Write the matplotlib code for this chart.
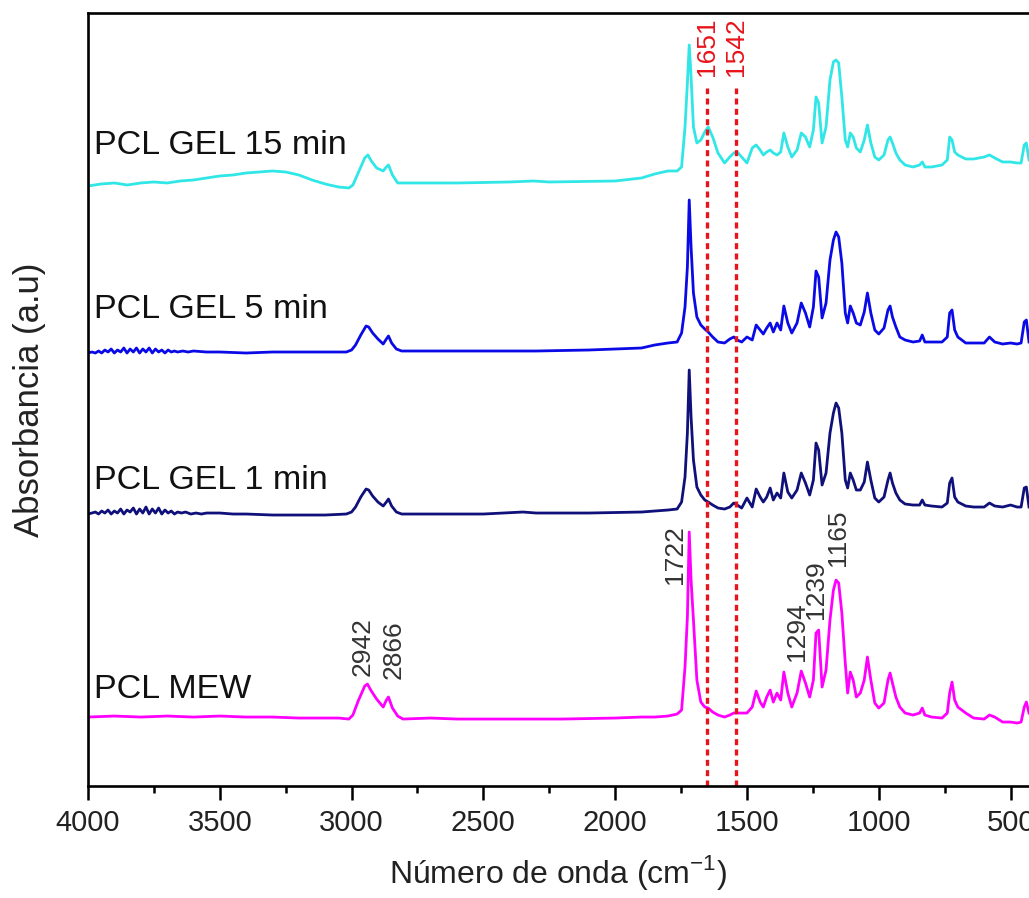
import matplotlib
matplotlib.use("Agg")
import matplotlib.pyplot as plt
from matplotlib.ticker import MultipleLocator, NullLocator

plt.rcParams['font.family'] = ['Liberation Sans', 'DejaVu Sans']
plt.rcParams['mathtext.fontset'] = 'custom'
plt.rcParams['mathtext.rm'] = 'Liberation Sans'

# --- data ---
names = ['PCL MEW', 'PCL GEL 1 min', 'PCL GEL 5 min', 'PCL GEL 15 min']
colors = ['#ff00ff', '#10107a', '#0a0ae6', '#30e6e6']

# high wavenumber part, one grid per spectrum
wn_hi_mew = [4000, 3900, 3800, 3700, 3600, 3500, 3400, 3300, 3200, 3050, 3010, 2995,
             2975, 2950, 2940, 2925, 2905, 2880, 2868, 2860, 2845, 2825, 2805, 2700,
             2600, 2400, 2200, 2000, 1900, 1850]
a_hi_mew = [0.66, 0.67, 0.66, 0.67, 0.66, 0.67, 0.66, 0.66, 0.65, 0.65, 0.64, 0.68,
            0.82, 0.97, 0.99, 0.92, 0.84, 0.76, 0.83, 0.86, 0.75, 0.67, 0.64, 0.65,
            0.64, 0.64, 0.64, 0.65, 0.66, 0.66]

wn_hi_1 = [4000, 3985, 3972, 3960, 3948, 3936, 3924, 3912, 3900, 3888, 3876, 3864,
           3852, 3840, 3828, 3816, 3804, 3792, 3780, 3768, 3756, 3744, 3732, 3720,
           3708, 3696, 3684, 3672, 3660, 3645, 3630, 3610, 3590, 3570, 3550, 3500,
           3450, 3400, 3300, 3200, 3100, 3020,
           3000, 2985, 2965, 2945, 2935, 2920, 2900, 2880, 2868, 2860, 2848, 2830,
           2810, 2700, 2500, 2350, 2300, 2100, 1900, 1850]
a_hi_1 = [2.69, 2.70, 2.71, 2.69, 2.72, 2.70, 2.73, 2.69, 2.72, 2.70, 2.74, 2.69,
          2.73, 2.71, 2.75, 2.69, 2.74, 2.70, 2.76, 2.69, 2.74, 2.70, 2.75, 2.69,
          2.73, 2.70, 2.72, 2.69, 2.71, 2.70, 2.71, 2.69, 2.70, 2.69, 2.70, 2.70,
          2.69, 2.69, 2.68, 2.68, 2.68, 2.69,
          2.71, 2.76, 2.86, 2.94, 2.93, 2.87, 2.81, 2.77, 2.81, 2.84, 2.77, 2.71,
          2.69, 2.69, 2.69, 2.71, 2.70, 2.70, 2.71, 2.72]

wn_hi_5 = [4000, 3985, 3972, 3960, 3948, 3936, 3924, 3912, 3900, 3888, 3876, 3864,
           3852, 3840, 3828, 3816, 3804, 3792, 3780, 3768, 3756, 3744, 3732, 3720,
           3708, 3696, 3684, 3672, 3660, 3640, 3620, 3600, 3550, 3500, 3400, 3300,
           3150, 3020, 3000, 2985, 2965, 2945,
           2935, 2920, 2900, 2880, 2868, 2860, 2848, 2830, 2810, 2700, 2500, 2300,
           2100, 1900, 1850]
a_hi_5 = [4.30, 4.31, 4.30, 4.32, 4.30, 4.33, 4.31, 4.34, 4.30, 4.33, 4.31, 4.35,
          4.30, 4.34, 4.31, 4.35, 4.30, 4.34, 4.31, 4.35, 4.30, 4.34, 4.31, 4.33,
          4.30, 4.33, 4.31, 4.32, 4.31, 4.32, 4.31, 4.32, 4.31, 4.31, 4.30, 4.31,
          4.31, 4.31, 4.33, 4.38, 4.48, 4.57,
          4.56, 4.50, 4.44, 4.39, 4.44, 4.47, 4.40, 4.34, 4.32, 4.32, 4.32, 4.32,
          4.33, 4.35, 4.38]

wn_hi_15 = [4000, 3950, 3900, 3850, 3800, 3750, 3700, 3650, 3600, 3550, 3500, 3450,
            3400, 3350, 3300, 3250, 3200, 3150, 3100, 3050, 3010, 2995, 2975, 2950,
            2938, 2925, 2905, 2880, 2868, 2860, 2845, 2825, 2805, 2600, 2400, 2310,
            2250, 2000, 1900, 1850]
a_hi_15 = [5.97, 5.99, 6.00, 5.98, 6.00, 6.01, 6.00, 6.02, 6.03, 6.05, 6.07, 6.08,
           6.10, 6.11, 6.12, 6.11, 6.08, 6.03, 5.99, 5.96, 5.95, 5.98, 6.10, 6.25,
           6.28, 6.22, 6.15, 6.12, 6.16, 6.18, 6.08, 6.00, 6.00, 6.00, 6.01, 6.02,
           6.01, 6.02, 6.05, 6.09]

# fingerprint region, shared grid
wn_fp = [1800, 1765, 1748, 1735, 1726, 1719, 1712, 1703, 1690, 1675, 1660, 1647, 1630,
         1610, 1585, 1565, 1550, 1537, 1520, 1500, 1480, 1465, 1450, 1438, 1425, 1412,
         1400, 1386, 1372, 1360, 1345, 1330, 1310, 1294, 1278, 1262, 1248, 1238, 1228,
         1215, 1200, 1185, 1172, 1162, 1152, 1140, 1127, 1118, 1108, 1097, 1085, 1070,
         1055, 1043, 1030, 1015, 1000, 980, 965, 957, 948, 935, 920, 900, 870, 845,
         835, 825, 800, 760, 740, 731, 722, 712, 700, 670, 640, 600, 580, 560, 530,
         500, 475, 460, 448, 440, 430]
a_fp_mew = [0.67, 0.69, 0.73, 1.16, 1.66, 2.51, 2.03, 1.63, 1.03, 0.81,
            0.76, 0.75, 0.71, 0.68, 0.66, 0.68, 0.70, 0.70, 0.70, 0.70,
            0.76, 0.92, 0.81, 0.76, 0.86, 0.93, 0.81, 0.90, 0.83, 1.11,
            0.90, 0.76, 0.90, 1.12, 1.00, 0.86, 1.03, 1.50, 1.53, 0.96,
            1.13, 1.63, 1.93, 2.03, 2.00, 1.70, 1.20, 0.90, 1.11, 1.03,
            0.86, 0.90, 1.03, 1.26, 1.03, 0.80, 0.75, 0.80, 1.03, 1.10,
            1.00, 0.86, 0.76, 0.70, 0.68, 0.70, 0.75, 0.68, 0.66, 0.65,
            0.70, 0.90, 1.01, 0.83, 0.76, 0.70, 0.65, 0.64, 0.68, 0.66,
            0.61, 0.61, 0.60, 0.61, 0.76, 0.81, 0.70]
a_fp_1 = [2.73, 2.74, 2.81, 3.06, 3.50, 4.13, 3.66, 3.23, 2.96, 2.88,
          2.83, 2.81, 2.78, 2.75, 2.74, 2.76, 2.80, 2.78, 2.75, 2.85,
          2.76, 2.94, 2.86, 2.81, 2.86, 2.95, 2.83, 2.90, 2.85, 3.10,
          2.91, 2.85, 2.93, 3.10, 3.00, 2.88, 3.03, 3.40, 3.33, 2.98,
          3.10, 3.50, 3.70, 3.80, 3.75, 3.50, 3.03, 2.95, 3.10, 3.03,
          2.93, 2.93, 3.01, 3.21, 3.03, 2.85, 2.81, 2.86, 3.03, 3.10,
          3.00, 2.90, 2.83, 2.79, 2.78, 2.78, 2.83, 2.78, 2.77, 2.76,
          2.80, 3.00, 3.05, 2.86, 2.81, 2.77, 2.76, 2.76, 2.80, 2.77,
          2.76, 2.78, 2.76, 2.76, 2.95, 2.96, 2.76]
a_fp_5 = [4.40, 4.41, 4.50, 4.76, 5.16, 5.83, 5.36, 4.90, 4.66, 4.58,
          4.54, 4.51, 4.46, 4.41, 4.40, 4.44, 4.46, 4.43, 4.41, 4.46,
          4.43, 4.58, 4.53, 4.49, 4.55, 4.60, 4.51, 4.60, 4.53, 4.77,
          4.60, 4.50, 4.60, 4.80, 4.70, 4.56, 4.76, 5.12, 5.06, 4.65,
          4.80, 5.23, 5.43, 5.51, 5.46, 5.20, 4.70, 4.60, 4.77, 4.70,
          4.60, 4.58, 4.71, 4.90, 4.70, 4.53, 4.49, 4.55, 4.73, 4.77,
          4.66, 4.56, 4.46, 4.43, 4.41, 4.42, 4.48, 4.41, 4.41, 4.41,
          4.46, 4.70, 4.73, 4.53, 4.46, 4.40, 4.40, 4.40, 4.46, 4.41,
          4.39, 4.40, 4.39, 4.40, 4.61, 4.63, 4.41]
a_fp_15 = [6.12, 6.12, 6.16, 6.56, 7.00, 7.38, 7.06, 6.56, 6.40, 6.43,
           6.51, 6.56, 6.46, 6.30, 6.20, 6.26, 6.30, 6.31, 6.26, 6.20,
           6.35, 6.38, 6.33, 6.28, 6.31, 6.33, 6.30, 6.28, 6.31, 6.50,
           6.36, 6.26, 6.33, 6.50, 6.46, 6.36, 6.53, 6.86, 6.80, 6.40,
           6.56, 7.03, 7.21, 7.23, 7.20, 6.86, 6.43, 6.36, 6.50, 6.46,
           6.35, 6.31, 6.43, 6.58, 6.40, 6.26, 6.23, 6.28, 6.43, 6.46,
           6.40, 6.30, 6.23, 6.18, 6.16, 6.18, 6.21, 6.16, 6.16, 6.18,
           6.23, 6.46, 6.43, 6.31, 6.28, 6.24, 6.24, 6.26, 6.28, 6.25,
           6.21, 6.21, 6.20, 6.20, 6.38, 6.40, 6.23]

# peak labels
peak_black = ['2942', '2866', '1722', '1294', '1239', '1165']
peak_red = ['1651', '1542']
red_lines = [1651, 1542]

# --- plot ---
fig = plt.figure(figsize=(10.29, 8.98), dpi=100)
ax = fig.add_axes([0.0855, 0.125, 0.9145, 0.86])

spectra = [
    (wn_hi_mew, a_hi_mew, a_fp_mew),
    (wn_hi_1, a_hi_1, a_fp_1),
    (wn_hi_5, a_hi_5, a_fp_5),
    (wn_hi_15, a_hi_15, a_fp_15),
]
for (wh, ah, af), c in zip(spectra, colors):
    ax.plot(wh + wn_fp, ah + af, color=c, lw=2.0, solid_joinstyle='round')

# dashed reference lines
for x in red_lines:
    ax.plot([x, x], [-0.03, 6.95], color='#e8141c', lw=2.4, ls=(0, (1.8, 1.3)))

# spectrum names
name_y = [0.855, 2.945, 4.655, 6.29]
for n, y in zip(names, name_y):
    ax.text(3976, y, n, fontsize=24.5, color='#111111', va='baseline', ha='left')

# peak annotations
black_pos = [(2957, 1.07), (2839, 1.04), (1773, 1.99), (1310, 1.22), (1238, 1.64), (1154, 2.17)]
for t, (x, y) in zip(peak_black, black_pos):
    ax.text(x, y, t, rotation=90, fontsize=19, color='#333333', ha='center', va='bottom')
red_pos = [(1652, 7.07), (1541, 7.07)]
for t, (x, y) in zip(peak_red, red_pos):
    ax.text(x, y, t, rotation=90, fontsize=19, color='#e8141c', ha='center', va='bottom')

ax.set_xlim(4000, 430)
ax.set_ylim(-0.027, 7.695)
ax.xaxis.set_major_locator(MultipleLocator(500))
ax.xaxis.set_minor_locator(MultipleLocator(250))
ax.yaxis.set_major_locator(NullLocator())
ax.tick_params(axis='x', which='major', direction='out', length=10, width=1.8,
               labelsize=21, pad=7, top=False, labelcolor='#222222')
ax.tick_params(axis='x', which='minor', direction='out', length=5, width=1.8, top=False)
for s in ['left', 'bottom', 'top']:
    ax.spines[s].set_linewidth(1.9)
ax.spines['right'].set_visible(False)

ax.set_xlabel('Número de onda (cm$^{\\mathregular{-1}}$)', fontsize=23, labelpad=11, color='#222222')
ax.set_ylabel('Absorbancia (a.u)', fontsize=25, labelpad=30, color='#222222')

fig.savefig('out.png', dpi=100)
